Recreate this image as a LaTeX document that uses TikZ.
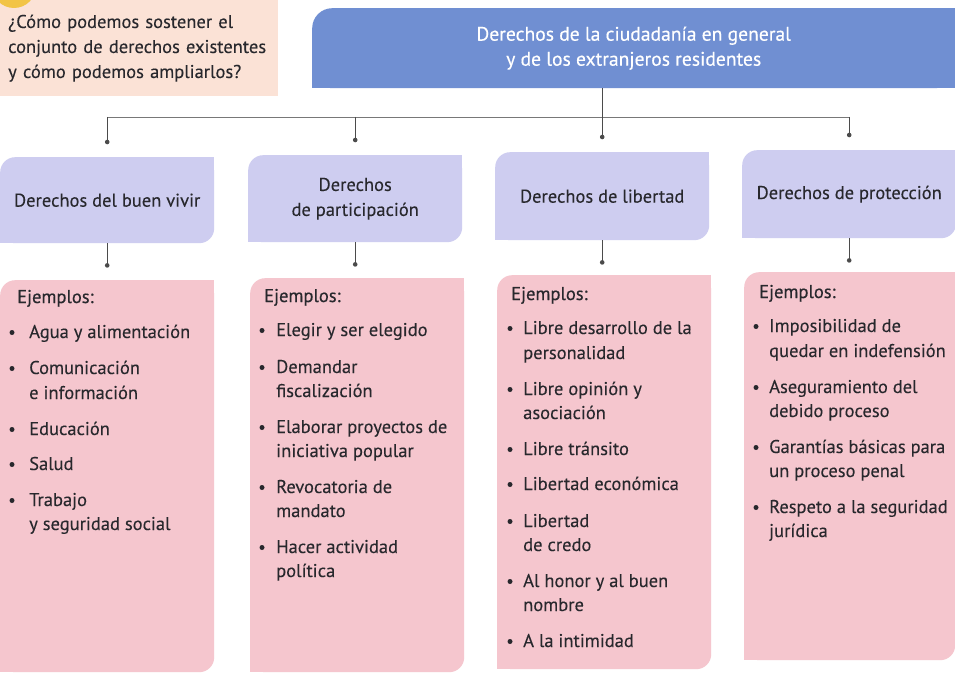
\documentclass[tikz,border=0pt]{standalone}
\usepackage{fontspec}
\setmainfont{PT Sans}[FakeBold=0.15]
\newfontface\medfont{PT Sans}[FakeBold=0.6]
\newfontface\topfont{PT Sans}[FakeBold=0.4]
\usetikzlibrary{calc}
\definecolor{peach}{RGB}{251,226,214}
\definecolor{mainblue}{RGB}{112,143,210}
\definecolor{lav}{RGB}{206,205,240}
\definecolor{pinkc}{RGB}{245,198,206}
\definecolor{txtc}{RGB}{40,40,45}
\definecolor{linec}{RGB}{75,75,75}
\definecolor{sunc}{RGB}{242,196,70}
\begin{document}
\begin{tikzpicture}[x=1pt,y=-1pt,
  basefont/.style={font=\fontsize{18.5}{25}\selectfont},
  qbox/.style={basefont, fill=peach, anchor=north west, minimum width=278, minimum height=96, text width=262, inner xsep=8, align=left, text=txtc},
  mainbox/.style={font=\topfont\fontsize{19.6}{25}\selectfont, fill=mainblue, anchor=north west, rounded corners=20pt, minimum width=643, minimum height=80, text=white, align=center},
  rowbox/.style={basefont, fill=lav, anchor=north west, rounded corners=15pt, minimum width=214, align=center, text=txtc},
  pinkbox/.style={fill=pinkc, anchor=north west, rounded corners=15pt, minimum width=214},
  conn/.style={draw=linec, line width=1.1pt},
  hl/.style={draw=linec!75, line width=0.8pt},
  dotc/.style={fill=linec},
  ln/.style={basefont, anchor=base west, inner sep=0pt, text=txtc},
  ejh/.style={font=\medfont\fontsize{18.5}{25}\selectfont, anchor=base west, inner sep=0pt, text=txtc}
]
\useasboundingbox (0,0) rectangle (955,674);
\fill[white] (0,0) rectangle (955,674);

% question box
\node[qbox] (q) at (0,0) {¿Cómo podemos sostener el\\conjunto de derechos existentes\\y cómo podemos ampliarlos?};
\begin{scope}
\clip (0,0) rectangle (60,20);
\fill[sunc] (14,-14) circle (22pt);
\end{scope}

% main box
\node[mainbox] (main) at (312,8) {Derechos de la ciudadanía en general\\y de los extranjeros residentes};
\fill[mainblue] (main.north east) rectangle ++(-22pt,-22pt);
\fill[mainblue] (main.south east) rectangle ++(-22pt,22pt);
\fill[mainblue] (main.south west) rectangle ++(22pt,22pt);

% row boxes
\node[rowbox, minimum height=86] (r1) at (0,157) {Derechos del buen vivir};
\node[rowbox, minimum height=87] (r2) at (248,155) {Derechos\\de participación};
\node[rowbox, minimum height=88] (r3) at (495,152) {Derechos de libertad};
\node[rowbox, minimum height=88] (r4) at (742,150) {Derechos de protección};
\foreach \i in {1,...,4}{
  \fill[lav] (r\i.north east) rectangle ++(-16pt,-16pt);
  \fill[lav] (r\i.south west) rectangle ++(16pt,16pt);
}

% pink boxes
\node[pinkbox, minimum height=392] (p1) at (0,280) {};
\node[pinkbox, minimum height=394] (p2) at (250,278) {};
\node[pinkbox, minimum height=394] (p3) at (497,275) {};
\node[pinkbox, minimum height=388, minimum width=211] (p4) at (744,272) {};
\foreach \i in {1,...,4}{
  \fill[pinkc] (p\i.north east) rectangle ++(-16pt,-16pt);
  \fill[pinkc] (p\i.south west) rectangle ++(16pt,16pt);
}

% connectors
\coordinate (h) at (0,117);
\draw[conn] (main.south -| r3.north) -- (r3.north |- h);
\draw[hl] (r1.north |- h) -- (r4.north |- h);
\foreach \i in {1,...,4}{
  \draw[conn] (r\i.north |- h) -- ($(r\i.north)+(0,-15)$) coordinate (dt\i);
  \fill[dotc] (dt\i) circle (2.3pt);
  \draw[conn] (r\i.south) -- ($(r\i.south)+(0,22)$) coordinate (db\i);
  \fill[dotc] (db\i) circle (2.3pt);
}

% column 1
\node[ejh] (e1) at (17,303) {Ejemplos:};
\foreach \y in {338,374,435,470,506}{\fill[txtc] (12,\y-5.5) circle (2.5pt);}
\node[ln] (a1) at (29,338) {Agua y alimentación};
\node[ln] (a2) at (29,374) {Comunicación};
\node[ln] (a3) at (29,399) {e información};
\node[ln] (a4) at (29,435) {Educación};
\node[ln] (a5) at (29,470) {Salud};
\node[ln] (a6) at (29,506) {Trabajo};
\node[ln] (a7) at (29,530) {y seguridad social};

% column 2
\node[ejh] (e2) at (264,302) {Ejemplos:};
\foreach \y in {336,373,433,493,553}{\fill[txtc] (262,\y-5.5) circle (2.5pt);}
\node[ln] (b1) at (276,336) {Elegir y ser elegido};
\node[ln] (b2) at (276,373) {Demandar};
\node[ln] (b3) at (276,397) {fiscalización};
\node[ln] (b4) at (276,433) {Elaborar proyectos de};
\node[ln] (b5) at (276,457) {iniciativa popular};
\node[ln] (b6) at (276,493) {Revocatoria de};
\node[ln] (b7) at (276,517) {mandato};
\node[ln] (b8) at (276,553) {Hacer actividad};
\node[ln] (b9) at (276,577) {política};

% column 3
\node[ejh] (e3) at (511,300) {Ejemplos:};
\foreach \y in {334,395,455,490,527,587,647}{\fill[txtc] (510,\y-5.5) circle (2.5pt);}
\node[ln] (c1) at (523,334) {Libre desarrollo de la};
\node[ln] (c2) at (523,359) {personalidad};
\node[ln] (c3) at (523,395) {Libre opinión y};
\node[ln] (c4) at (523,419) {asociación};
\node[ln] (c5) at (523,455) {Libre tránsito};
\node[ln] (c6) at (523,490) {Libertad económica};
\node[ln] (c7) at (523,527) {Libertad};
\node[ln] (c8) at (523,551) {de credo};
\node[ln] (c9) at (523,587) {Al honor y al buen};
\node[ln] (c10) at (523,611) {nombre};
\node[ln] (c11) at (523,647) {A la intimidad};

% column 4
\node[ejh] (e4) at (759,298) {Ejemplos:};
\foreach \y in {332,393,453,513}{\fill[txtc] (756,\y-5.5) circle (2.5pt);}
\node[ln] (d1) at (769,332) {Imposibilidad de};
\node[ln] (d2) at (769,357) {quedar en indefensión};
\node[ln] (d3) at (769,393) {Aseguramiento del};
\node[ln] (d4) at (769,417) {debido proceso};
\node[ln] (d5) at (769,453) {Garantías básicas para};
\node[ln] (d6) at (769,477) {un proceso penal};
\node[ln] (d7) at (769,513) {Respeto a la seguridad};
\node[ln] (d8) at (769,537) {jurídica};
\end{tikzpicture}
\end{document}
